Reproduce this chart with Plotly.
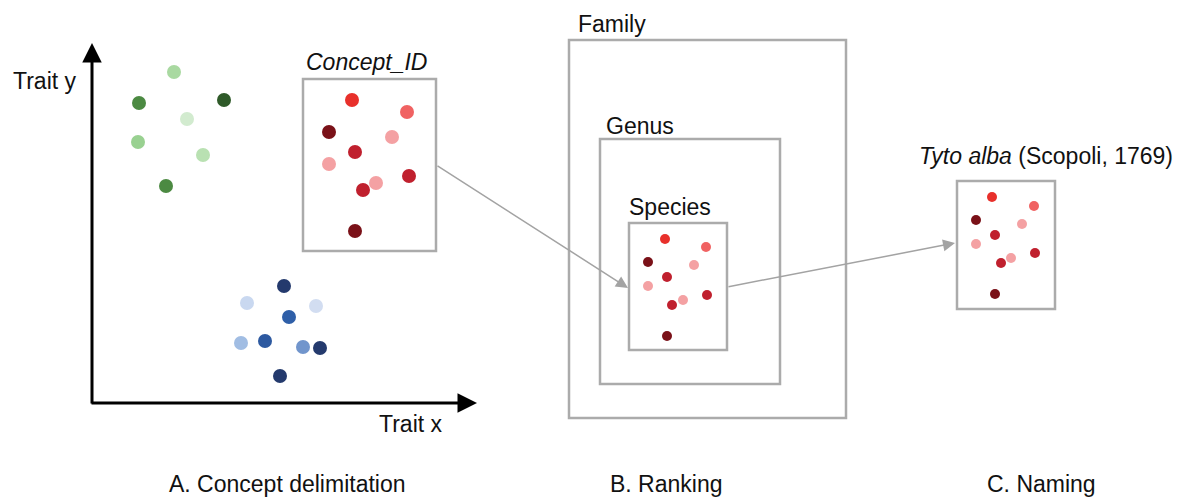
import plotly.graph_objects as go

# point clusters (page pixel coordinates)
green_x = [174, 139, 224, 187, 138, 203, 166]
green_y = [72, 103, 100, 119, 142, 155, 186]
green_c = ["#a9d9a1", "#4c8a42", "#2f5a29", "#d2ebcf", "#99d191", "#b9e1b2", "#4c8a42"]

blue_x = [284, 247, 316, 289, 265, 241, 303, 320, 280]
blue_y = [286, 303, 306, 317, 341, 343, 347, 348, 376]
blue_c = ["#243a6d", "#c9d8f0", "#d2ddf1", "#2f5fa8", "#2d59a0", "#a1bde3", "#7195cc", "#243a6d", "#243a6d"]

concept_x = [352, 407, 329, 392, 355, 329, 409, 376, 363, 355]
concept_y = [100, 112, 132, 137, 152, 164, 176, 183, 190, 231]

species_x = [665, 706, 648, 694, 667, 648, 707, 683, 672, 667]
species_y = [239, 247, 262, 265, 277, 286, 295, 300, 305, 336]

naming_x = [992, 1034, 976, 1022, 995, 976, 1035, 1011, 1001, 995]
naming_y = [197, 206, 220, 224, 235, 244, 253, 258, 263, 294]

red_c = ["#e8302b", "#f06262", "#7a1118", "#f4a1a3", "#c0202e", "#f4a1a3", "#c0202e", "#f4a1a3", "#c0202e", "#7a1118"]

BOX = "#ababab"
ARROW = "#a3a3a3"
FONT = "Liberation Sans, Arial, sans-serif"

fig = go.Figure()

for xs, ys, cs, size in [
    (green_x, green_y, green_c, 14),
    (blue_x, blue_y, blue_c, 14),
    (concept_x, concept_y, red_c, 14),
    (species_x, species_y, red_c, 10),
    (naming_x, naming_y, red_c, 10),
]:
    fig.add_trace(
        go.Scatter(
            x=xs, y=ys, mode="markers",
            marker=dict(color=cs, size=size, line=dict(width=0)),
            hoverinfo="skip", showlegend=False,
        )
    )

# boxes
for x0, y0, x1, y1 in [
    (303, 79, 436, 251),
    (569, 40, 846, 418),
    (600, 139, 780, 384),
    (629, 223, 727, 350),
    (957, 181, 1055, 309),
]:
    fig.add_shape(type="rect", x0=x0, y0=y0, x1=x1, y1=y1,
                  line=dict(color=BOX, width=2.5), layer="below")

# trait axes
fig.add_annotation(x=92, y=43, ax=92, ay=405, xref="x", yref="y", axref="x", ayref="y",
                   showarrow=True, arrowhead=2, arrowsize=1.3, arrowwidth=3, arrowcolor="black", text="")
fig.add_annotation(x=477, y=403, ax=90, ay=403, xref="x", yref="y", axref="x", ayref="y",
                   showarrow=True, arrowhead=2, arrowsize=1.3, arrowwidth=3, arrowcolor="black", text="")

# grey flow arrows
fig.add_annotation(x=628, y=288, ax=436, ay=165, xref="x", yref="y", axref="x", ayref="y",
                   showarrow=True, arrowhead=2, arrowsize=1.6, arrowwidth=1.5, arrowcolor=ARROW, text="")
fig.add_annotation(x=955, y=243, ax=727, ay=287, xref="x", yref="y", axref="x", ayref="y",
                   showarrow=True, arrowhead=2, arrowsize=1.6, arrowwidth=1.5, arrowcolor=ARROW, text="")

labels = [
    (11, 81, "Trait y", "left"),
    (377, 424, "Trait x", "left"),
    (304, 62, "<i>Concept_ID</i>", "left"),
    (576, 24, "Family", "left"),
    (604, 126, "Genus", "left"),
    (627, 207, "Species", "left"),
    (917, 156, "<i>Tyto alba</i> (Scopoli, 1769)", "left"),
    (287, 484, "A. Concept delimitation", "center"),
    (666, 484, "B. Ranking", "center"),
    (1041, 484, "C. Naming", "center"),
]
for x, y, t, al in labels:
    fig.add_annotation(x=x, y=y, xref="x", yref="y", text=t, showarrow=False,
                       xanchor=al, yanchor="middle",
                       font=dict(family=FONT, size=23, color="#111111"))

fig.update_xaxes(range=[0, 1187], visible=False, fixedrange=True)
fig.update_yaxes(range=[497, 0], visible=False, fixedrange=True)
fig.update_layout(
    width=1187, height=497,
    margin=dict(l=0, r=0, t=0, b=0),
    paper_bgcolor="white", plot_bgcolor="white",
)

fig.write_html(
    "out.html",
    config={"displayModeBar": False},
    post_script="document.body.style.margin='0';document.body.style.overflow='hidden';",
)
